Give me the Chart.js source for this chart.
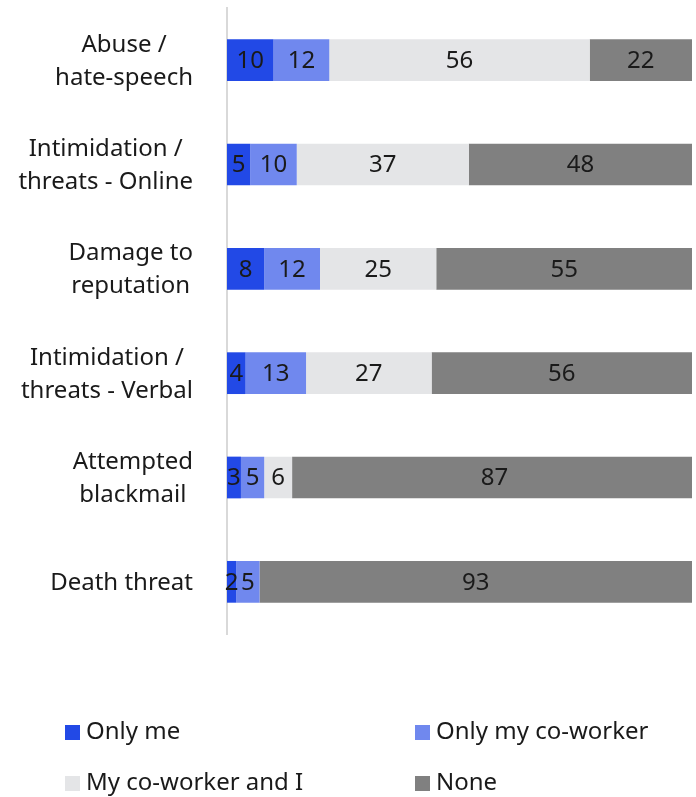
<!DOCTYPE html>
<html>
<head>
<meta charset="utf-8">
<script src="https://cdn.jsdelivr.net/npm/chart.js@4/dist/chart.umd.min.js"></script>
<style>
  html, body { margin: 0; padding: 0; background: #fff; }
  #wrap { width: 696px; height: 797px; position: relative; }
</style>
</head>
<body>
<div id="wrap"><canvas id="harassmentChart"></canvas></div>
<script>
const categories = [
  ["Abuse /", "hate-speech"],
  ["Intimidation /", "threats - Online"],
  ["Damage to", "reputation"],
  ["Intimidation /", "threats - Verbal"],
  ["Attempted", "blackmail"],
  ["Death threat"]
];
const onlyMe = [10, 5, 8, 4, 3, 2];
const onlyCoworker = [12, 10, 12, 13, 5, 5];
const bothOfUs = [56, 37, 25, 27, 6, 0];
const none = [22, 48, 55, 56, 87, 93];

const seriesNames = ["Only me", "Only my co-worker", "My co-worker and I", "None"];
const seriesColors = ["#2249e6", "#7088ee", "#e4e5e7", "#808080"];

const FONT = "'Noto Sans', 'Open Sans', sans-serif";
const FONT_SIZE = 24;

// category labels: each line centred, block right-aligned against the axis
const categoryLabels = {
  id: "categoryLabels",
  afterDraw(chart) {
    const ctx = chart.ctx;
    const y = chart.scales.y;
    ctx.save();
    ctx.font = FONT_SIZE + "px " + FONT;
    ctx.fillStyle = "#1a1a1a";
    ctx.textAlign = "center";
    ctx.textBaseline = "middle";
    const right = y.right - 34;
    categories.forEach((lines, i) => {
      const widest = Math.max(...lines.map(l => ctx.measureText(l).width));
      const cx = right - widest / 2;
      const cy = y.getPixelForValue(i);
      const lh = 33;
      lines.forEach((l, j) => {
        ctx.fillText(l, cx, cy + (j - (lines.length - 1) / 2) * lh + 1);
      });
    });
    ctx.restore();
  }
};

// value labels in the middle of each segment
const segmentValues = {
  id: "segmentValues",
  afterDatasetsDraw(chart) {
    const ctx = chart.ctx;
    ctx.save();
    ctx.font = FONT_SIZE + "px " + FONT;
    ctx.fillStyle = "#1a1a1a";
    ctx.textAlign = "center";
    ctx.textBaseline = "middle";
    chart.data.datasets.forEach((ds, di) => {
      chart.getDatasetMeta(di).data.forEach((bar, i) => {
        const v = ds.data[i];
        if (!v) return;
        const { x, y, base } = bar.getProps(["x", "y", "base"], true);
        ctx.fillText(String(v), (x + base) / 2, y + 1);
      });
    });
    ctx.restore();
  }
};

// two-column legend under the plot
const gridLegend = {
  id: "gridLegend",
  afterDraw(chart) {
    const ctx = chart.ctx;
    const cols = [65, 415];
    const rows = [732, 783];
    ctx.save();
    ctx.font = FONT_SIZE + "px " + FONT;
    ctx.textAlign = "left";
    ctx.textBaseline = "middle";
    chart.data.datasets.forEach((ds, i) => {
      const x = cols[i % 2];
      const y = rows[Math.floor(i / 2)];
      ctx.fillStyle = ds.backgroundColor;
      ctx.fillRect(x, y - 7, 15, 15);
      ctx.fillStyle = "#1a1a1a";
      ctx.fillText(ds.label, x + 21, y);
    });
    ctx.restore();
  }
};

const seriesData = [onlyMe, onlyCoworker, bothOfUs, none];

new Chart(document.getElementById("harassmentChart"), {
  type: "bar",
  data: {
    labels: categories.map(c => c.join(" ")),
    datasets: seriesNames.map((name, i) => ({
      label: name,
      data: seriesData[i],
      backgroundColor: seriesColors[i],
      borderWidth: 0,
      barPercentage: 0.4,
      categoryPercentage: 1,
      clip: 0
    }))
  },
  options: {
    indexAxis: "y",
    responsive: true,
    maintainAspectRatio: false,
    animation: false,
    layout: { padding: { left: 0, right: 4, top: 8, bottom: 163 } },
    plugins: {
      legend: { display: false },
      tooltip: { enabled: false }
    },
    scales: {
      x: {
        stacked: true,
        min: 0,
        max: 100,
        display: false
      },
      y: {
        stacked: true,
        grid: { display: false },
        border: { display: true, color: "#d9d9d9", width: 2 },
        ticks: { display: false },
        afterFit(scale) { scale.width = 227; }
      }
    }
  },
  plugins: [categoryLabels, segmentValues, gridLegend]
});
</script>
</body>
</html>
